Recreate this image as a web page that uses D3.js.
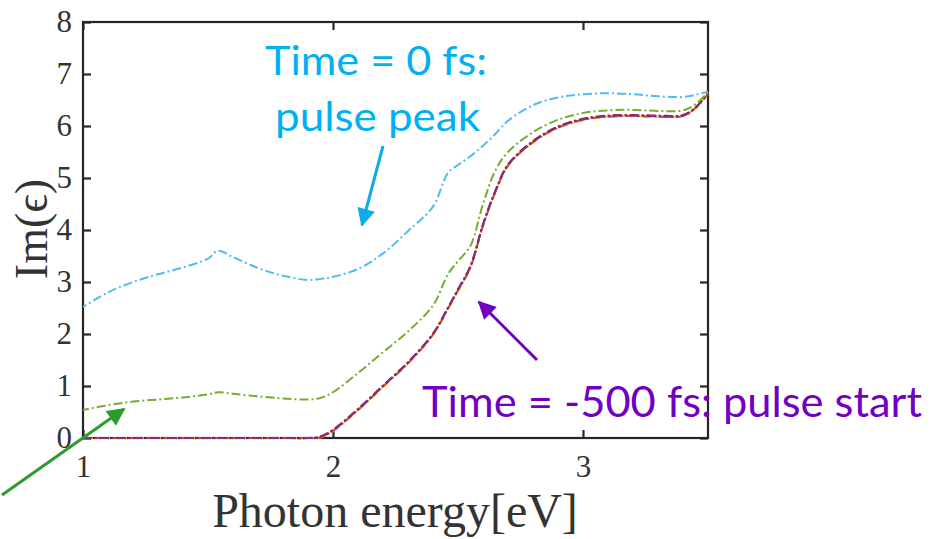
<!DOCTYPE html>
<html><head><meta charset="utf-8">
<script src="https://cdn.jsdelivr.net/npm/d3@7"></script>
<style>body{margin:0;background:#fff}svg{display:block}</style>
</head><body>
<script>
const energies = [1.0,1.1,1.2,1.3,1.4,1.5,1.54,1.6,1.7,1.8,1.9,1.95,2.0,2.1,2.2,2.3,2.4,2.46,2.5,2.55,2.6,2.65,2.7,2.8,2.9,3.0,3.1,3.2,3.3,3.4,3.45,3.5];
const peakValues = [2.52,2.8,3.0,3.15,3.28,3.45,3.6,3.48,3.27,3.12,3.04,3.06,3.1,3.25,3.55,3.98,4.45,5.1,5.25,5.42,5.62,5.85,6.1,6.4,6.55,6.61,6.63,6.61,6.57,6.56,6.6,6.66];
const greenValues = [0.54,0.63,0.7,0.74,0.78,0.84,0.88,0.85,0.8,0.76,0.74,0.77,0.88,1.25,1.65,2.05,2.55,3.15,3.4,3.7,4.5,5.15,5.5,5.88,6.12,6.25,6.3,6.31,6.29,6.3,6.42,6.65];
const startValues = [0,0,0,0,0,0,0,0,0,0,0,0.02,0.15,0.55,1.0,1.45,2.0,2.5,2.85,3.3,4.1,4.75,5.25,5.7,5.98,6.13,6.19,6.2,6.19,6.2,6.35,6.63];
const redValues = [0,0,0,0,0,0,0,0,0,0,0,0.03,0.16,0.56,1.01,1.46,2.01,2.51,2.86,3.31,4.11,4.76,5.26,5.71,5.99,6.14,6.2,6.21,6.2,6.21,6.36,6.63];
const orangeValues = [0,0,0,0,0,0,0,0,0,0,0,0.01,0.14,0.54,0.99,1.44,1.99,2.49,2.84,3.29,4.09,4.74,5.24,5.69,5.97,6.12,6.18,6.19,6.18,6.19,6.34,6.62];
const yellowValues = [0,0,0,0,0,0,0,0,0,0,0,0.01,0.13,0.53,0.98,1.43,1.98,2.48,2.83,3.28,4.08,4.73,5.23,5.68,5.96,6.11,6.18,6.19,6.18,6.2,6.35,6.62];
const seriesNames = ["yellow","orange","red","start","green","peak"];
const seriesColors = ["#EDB120","#D95319","#A2142F","#7E2F8E","#77AC30","#4DBEEE"];
const seriesOffsets = [4,6,1,0,3,5];
const xTicks = [1,2,3];
const yTicks = [0,1,2,3,4,5,6,7,8];

(function(){
const W = 930, H = 539;
const svg = d3.select("body").append("svg").attr("width", W).attr("height", H);
const x = d3.scaleLinear().domain([1,3.5]).range([83,708]);
const y = d3.scaleLinear().domain([0,8]).range([438,22]);

const defs = svg.append("defs");
function marker(id, color){
  defs.append("marker").attr("id",id).attr("viewBox","0 0 10 10").attr("refX",9).attr("refY",5)
    .attr("markerWidth",7).attr("markerHeight",6).attr("markerUnits","strokeWidth").attr("orient","auto")
    .append("path").attr("d","M0,0 L10,5 L0,10 z").attr("fill",color);
}
marker("mg","#2e9b2e"); marker("mb","#10aae8"); marker("mp","#7000c4");

const ax = "#262626";
svg.append("rect").attr("x",83).attr("y",22).attr("width",625).attr("height",416)
  .attr("fill","none").attr("stroke",ax).attr("stroke-width",2.2);
const gB = svg.append("g").attr("transform","translate(0,438)")
  .call(d3.axisBottom(x).tickValues(xTicks).tickSize(-8).tickPadding(17).tickFormat(d3.format("d")));
const gT = svg.append("g").attr("transform","translate(0,22)")
  .call(d3.axisTop(x).tickValues(xTicks).tickSize(-8).tickFormat(""));
const gL = svg.append("g").attr("transform","translate(83,0)")
  .call(d3.axisLeft(y).tickValues(yTicks).tickSize(-8).tickPadding(11).tickFormat(d3.format("d")));
const gR = svg.append("g").attr("transform","translate(708,0)")
  .call(d3.axisRight(y).tickValues(yTicks).tickSize(-8).tickFormat(""));
[gB, gT, gL, gR].forEach(g=>{
  g.attr("font-family",null).attr("font-size",null);
  g.select(".domain").remove();
  g.selectAll(".tick line").attr("stroke",ax).attr("stroke-width",2.2);
  g.selectAll("text").style("font-family","'Liberation Serif','Times New Roman',serif").style("font-size","31px").attr("fill","#333");
});

const allSeries = [yellowValues, orangeValues, redValues, startValues, greenValues, peakValues];
const line = d3.line().x(d=>x(d[0])).y(d=>y(d[1])).curve(d3.curveCatmullRom.alpha(0.5));
allSeries.forEach((vals,i)=>{
  svg.append("path").datum(energies.map((e,j)=>[e, vals[j]]))
    .attr("d", line).attr("fill","none").attr("stroke", seriesColors[i])
    .attr("stroke-width", 2).attr("stroke-dasharray","9,3,2,3")
    .attr("stroke-dashoffset", seriesOffsets[i]);
});

svg.append("text").attr("x",395).attr("y",527).attr("text-anchor","middle")
  .attr("font-family","'Liberation Serif',serif").attr("font-size",48).attr("fill","#333")
  .text("Photon energy[eV]");
svg.append("text").attr("transform","translate(47,229) rotate(-90)").attr("text-anchor","middle")
  .attr("font-family","'Liberation Serif',serif").attr("font-size",46).attr("fill","#333")
  .text("Im(ϵ)");

const ff = "Lato, 'Open Sans', sans-serif";
svg.append("text").attr("x",265).attr("y",75).attr("font-family",ff).attr("font-size",40).attr("fill","#00b0f0")
  .attr("textLength",222).attr("lengthAdjust","spacingAndGlyphs").text("Time = 0 fs:");
svg.append("text").attr("x",275).attr("y",131).attr("font-family",ff).attr("font-size",40).attr("fill","#00b0f0")
  .attr("textLength",205).attr("lengthAdjust","spacingAndGlyphs").text("pulse peak");
svg.append("text").attr("x",422).attr("y",417).attr("font-family",ff).attr("font-size",42).attr("fill","#7000c4")
  .attr("textLength",500).attr("lengthAdjust","spacingAndGlyphs").text("Time = -500 fs: pulse start");

svg.append("line").attr("x1",2).attr("y1",495).attr("x2",124).attr("y2",409)
  .attr("stroke","#2e9b2e").attr("stroke-width",3).attr("marker-end","url(#mg)");
svg.append("line").attr("x1",383).attr("y1",146).attr("x2",362).attr("y2",225)
  .attr("stroke","#10aae8").attr("stroke-width",3).attr("marker-end","url(#mb)");
svg.append("line").attr("x1",537).attr("y1",360).attr("x2",479).attr("y2",302)
  .attr("stroke","#7000c4").attr("stroke-width",3).attr("marker-end","url(#mp)");
})();
</script>
</body></html>
